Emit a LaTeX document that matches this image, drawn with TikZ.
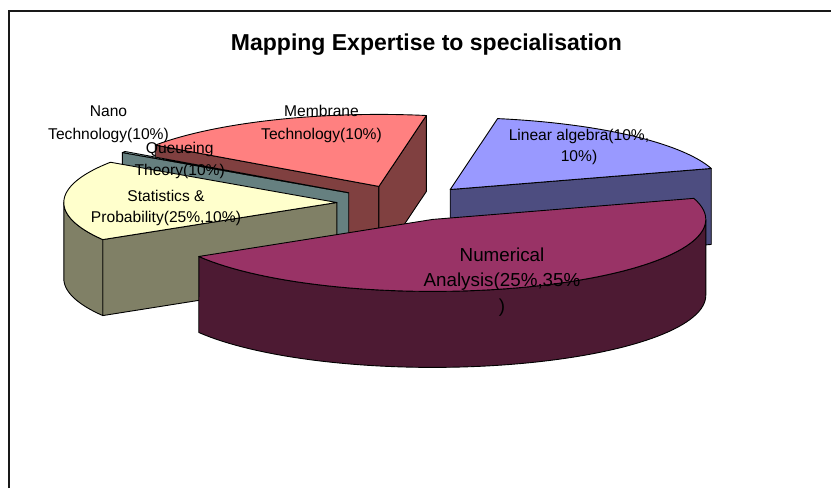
\documentclass[tikz,border=0pt]{standalone}
\usepackage{fontspec}
\setmainfont{Liberation Sans}
\definecolor{laTop}{HTML}{9999FF}
\definecolor{laSide}{HTML}{4D4D80}
\definecolor{nTop}{HTML}{993366}
\definecolor{nSide}{HTML}{4D1A33}
\definecolor{sTop}{HTML}{FFFFCC}
\definecolor{sSide}{HTML}{808066}
\definecolor{qTop}{HTML}{CCFFFF}
\definecolor{qSide}{HTML}{668080}
\definecolor{mTop}{HTML}{FF8080}
\definecolor{mSide}{HTML}{804040}
\def\A{273}
\def\B{72}
\def\D{76}
\newcommand\pieTop[5]{%
  \filldraw[fill=#5, pieline] (#1,#2) -- plot[domain=#3:#4, samples=70] ({#1+\A*cos(\x)},{#2+\B*sin(\x)}) -- cycle;}
\newcommand\pieRadial[4]{%
  \filldraw[fill=#4, pieline] (#1,#2) -- ({#1+\A*cos(#3)},{#2+\B*sin(#3)}) -- ({#1+\A*cos(#3)},{#2+\B*sin(#3)+\D}) -- (#1,{#2+\D}) -- cycle;}
\newcommand\pieOuter[5]{%
  \filldraw[fill=#5, pieline] plot[domain=#3:#4, samples=70] ({#1+\A*cos(\x)},{#2+\B*sin(\x)}) -- plot[domain=#4:#3, samples=70] ({#1+\A*cos(\x)},{#2+\B*sin(\x)+\D}) -- cycle;}
\begin{document}
\begin{tikzpicture}[x=1pt, y=-1pt,
  pieline/.style={draw=black, line width=0.9pt, line join=round},
  frame/.style={draw=black!90, line width=1.7pt},
  lbl/.style={font=\fontsize{15.6}{18}\selectfont, inner sep=0pt, anchor=base},
  nlbl/.style={font=\fontsize{18.8}{22}\selectfont, inner sep=0pt, anchor=base},
  ttl/.style={font=\fontsize{23}{27}\selectfont\bfseries, inner sep=0pt, anchor=base}]
\useasboundingbox (0,0) rectangle (831,488);
\fill[white] (0,0) rectangle (831,488);
% frame (cropped chart area)
\draw[frame] (9.3,488) -- (9.3,11.2) -- (831,11.2);
% Membrane Technology (back)
\pieRadial{378.9}{186.4}{215}{mSide}
\pieRadial{378.9}{186.4}{280}{mSide}
\pieTop{378.9}{186.4}{215}{280}{mTop}
% Queueing Theory (thin)
\pieRadial{348.7}{192.8}{214}{qSide}
\pieTop{348.7}{192.8}{214}{215}{qTop}
% Statistics & Probability
\pieRadial{336.8}{202.5}{149}{sSide}
\pieOuter{336.8}{202.5}{149}{180}{sSide}
\pieTop{336.8}{202.5}{149}{214}{sTop}
% Linear algebra
\pieRadial{450.2}{189.5}{-17}{laSide}
\pieTop{450.2}{189.5}{-80}{-17}{laTop}
% Numerical Analysis (front)
\pieOuter{432.8}{219.4}{0}{149}{nSide}
\pieTop{432.8}{219.4}{-17}{149}{nTop}
% title
\node[ttl] (title) at (426.5,50) {Mapping Expertise to specialisation};
% labels
\node[lbl] (nano1) at (108.5,116.7) {Nano};
\node[lbl] (nano2) at (108.5,139) {Technology(10\%)};
\node[lbl] (memb1) at (321.5,116.7) {Membrane};
\node[lbl] (memb2) at (321.5,139) {Technology(10\%)};
\node[lbl] (queue1) at (179.7,153.3) {Queueing};
\node[lbl] (queue2) at (179.7,175.7) {Theory(10\%)};
\node[lbl] (stat1) at (166,201) {Statistics \&};
\node[lbl] (stat2) at (166,222.7) {Probability(25\%,10\%)};
\node[lbl] (lin1) at (579,140) {Linear algebra(10\%,};
\node[lbl] (lin2) at (579,161.7) {10\%)};
\node[nlbl] (num1) at (502,261.7) {Numerical};
\node[nlbl] (num2) at (502,286.7) {Analysis(25\%,35\%};
\node[nlbl] (num3) at (502,312) {)};
\end{tikzpicture}
\end{document}
